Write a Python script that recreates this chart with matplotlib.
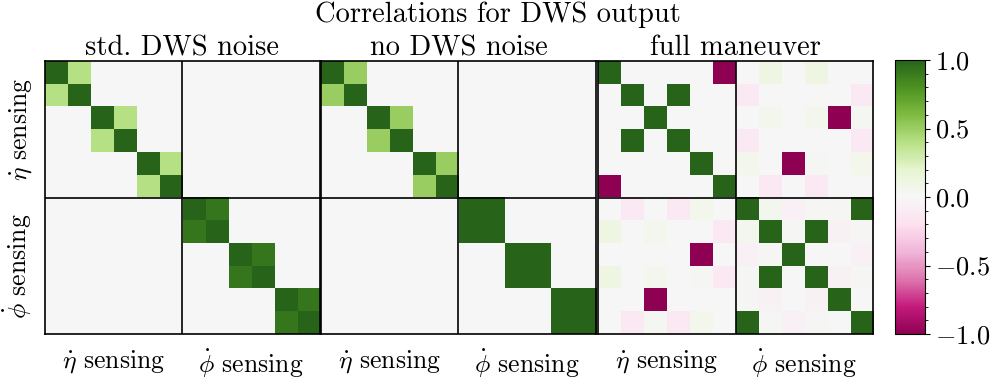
import numpy as np
import matplotlib
matplotlib.use('Agg')
import matplotlib.pyplot as plt
from matplotlib.ticker import MultipleLocator

plt.rcParams['font.family'] = 'serif'
plt.rcParams['font.serif'] = ['cmr10']
plt.rcParams['mathtext.fontset'] = 'cm'
plt.rcParams['axes.formatter.use_mathtext'] = True

# Correlation matrices (12 channels: 6 eta-dot sensing, 6 phi-dot sensing)
std_dws_noise = [
    [1.0, 0.4, 0, 0, 0, 0, 0, 0, 0, 0, 0, 0],
    [0.4, 1.0, 0, 0, 0, 0, 0, 0, 0, 0, 0, 0],
    [0, 0, 1.0, 0.4, 0, 0, 0, 0, 0, 0, 0, 0],
    [0, 0, 0.4, 1.0, 0, 0, 0, 0, 0, 0, 0, 0],
    [0, 0, 0, 0, 1.0, 0.4, 0, 0, 0, 0, 0, 0],
    [0, 0, 0, 0, 0.4, 1.0, 0, 0, 0, 0, 0, 0],
    [0, 0, 0, 0, 0, 0, 1.0, 0.92, 0, 0, 0, 0],
    [0, 0, 0, 0, 0, 0, 0.92, 1.0, 0, 0, 0, 0],
    [0, 0, 0, 0, 0, 0, 0, 0, 1.0, 0.92, 0, 0],
    [0, 0, 0, 0, 0, 0, 0, 0, 0.92, 1.0, 0, 0],
    [0, 0, 0, 0, 0, 0, 0, 0, 0, 0, 1.0, 0.92],
    [0, 0, 0, 0, 0, 0, 0, 0, 0, 0, 0.92, 1.0],
]

no_dws_noise = [
    [1.0, 0.5, 0, 0, 0, 0, 0, 0, 0, 0, 0, 0],
    [0.5, 1.0, 0, 0, 0, 0, 0, 0, 0, 0, 0, 0],
    [0, 0, 1.0, 0.5, 0, 0, 0, 0, 0, 0, 0, 0],
    [0, 0, 0.5, 1.0, 0, 0, 0, 0, 0, 0, 0, 0],
    [0, 0, 0, 0, 1.0, 0.5, 0, 0, 0, 0, 0, 0],
    [0, 0, 0, 0, 0.5, 1.0, 0, 0, 0, 0, 0, 0],
    [0, 0, 0, 0, 0, 0, 1.0, 1.0, 0, 0, 0, 0],
    [0, 0, 0, 0, 0, 0, 1.0, 1.0, 0, 0, 0, 0],
    [0, 0, 0, 0, 0, 0, 0, 0, 1.0, 1.0, 0, 0],
    [0, 0, 0, 0, 0, 0, 0, 0, 1.0, 1.0, 0, 0],
    [0, 0, 0, 0, 0, 0, 0, 0, 0, 0, 1.0, 1.0],
    [0, 0, 0, 0, 0, 0, 0, 0, 0, 0, 1.0, 1.0],
]

full_maneuver = [
    [1.0, 0, 0, 0, 0, -1.0, 0, 0.1, 0, 0.1, 0, 0],
    [0, 1.0, 0, 1.0, 0, 0, -0.12, 0, 0, 0, 0, -0.12],
    [0, 0, 1.0, 0, 0, 0, 0, 0.05, 0, 0.05, -1.0, 0.03],
    [0, 1.0, 0, 1.0, 0, 0, -0.12, 0, 0, 0, 0, -0.12],
    [0, 0, 0, 0, 1.0, 0, 0.06, 0, -1.0, 0.02, 0, 0.06],
    [-1.0, 0, 0, 0, 0, 1.0, 0, -0.12, 0, -0.12, 0, 0],
    [0, -0.12, 0, -0.12, 0.06, 0, 1.0, 0.04, -0.06, 0.02, 0.02, 1.0],
    [0.1, 0, 0.05, 0, 0, -0.12, 0.04, 1.0, 0.02, 1.0, -0.05, 0.02],
    [0, 0, 0, 0, -1.0, 0, -0.06, 0.02, 1.0, 0, 0, -0.06],
    [0.1, 0, 0.05, 0, 0.02, -0.12, 0.02, 1.0, 0, 1.0, -0.05, 0.02],
    [0, 0, -1.0, 0, 0, 0, 0.02, -0.05, 0, -0.05, 1.0, 0],
    [0, -0.12, 0.03, -0.12, 0.06, 0, 1.0, 0.02, -0.06, 0.02, 0, 1.0],
]

panel_titles = ['std. DWS noise', 'no DWS noise', 'full maneuver']
block_labels = [r'$\dot{\eta}$ sensing', r'$\dot{\phi}$ sensing']

fig = plt.figure(figsize=(9.95, 3.8), dpi=100)
lefts = [0.045, 0.3226, 0.601]
axes = [fig.add_axes([l, 0.121, 0.2764, 0.7184]) for l in lefts]
cax = fig.add_axes([0.8995, 0.121, 0.030, 0.7210])

for i, (ax, mat) in enumerate(zip(axes, [std_dws_noise, no_dws_noise, full_maneuver])):
    im = ax.imshow(np.array(mat), cmap='PiYG', vmin=-1, vmax=1,
                   interpolation='nearest', aspect='auto')
    ax.axhline(5.5, color='black', lw=1.2)
    ax.axvline(5.5, color='black', lw=1.2)
    ax.set_title(panel_titles[i], fontsize=20.5, pad=2)
    ax.set_xticks([2.5, 8.5])
    ax.set_xticklabels(block_labels, fontsize=18.5)
    ax.tick_params(axis='x', length=0, pad=10)
    if i == 0:
        ax.set_yticks([2.5, 8.5])
        ax.set_yticklabels(block_labels, fontsize=18.5, rotation=90, va='center')
        ax.tick_params(axis='y', length=0, pad=8)
    else:
        ax.set_yticks([])
    for sp in ax.spines.values():
        sp.set_linewidth(1.2)

cb = fig.colorbar(im, cax=cax)
cb.set_ticks([-1.0, -0.5, 0.0, 0.5, 1.0])
cb.ax.yaxis.set_minor_locator(MultipleLocator(0.1))
cb.ax.tick_params(labelsize=19)

fig.suptitle('Correlations for DWS output', fontsize=20.5, y=0.997)

plt.savefig('out.png', dpi=100)
